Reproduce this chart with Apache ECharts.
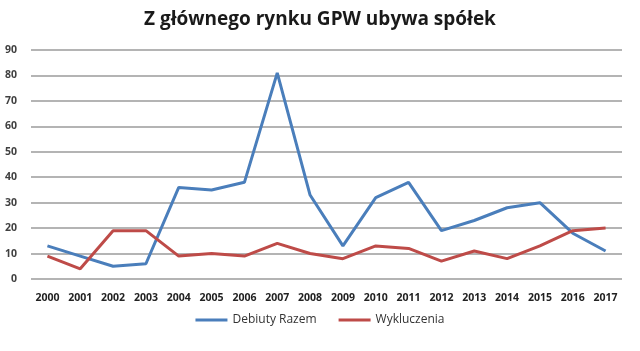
<!DOCTYPE html>
<html>
<head>
<meta charset="utf-8">
<script src="https://cdn.jsdelivr.net/npm/echarts@6/dist/echarts.min.js"></script>
<style>
  html, body { margin: 0; padding: 0; background: #fff; }
  #chart { width: 640px; height: 351px; }
</style>
</head>
<body>
<div id="chart"></div>
<script>
const years = ['2000', '2001', '2002', '2003', '2004', '2005', '2006', '2007', '2008',
  '2009', '2010', '2011', '2012', '2013', '2014', '2015', '2016', '2017'];
const debiuty = [13, 9, 5, 6, 36, 35, 38, 81, 33, 13, 32, 38, 19, 23, 28, 30, 18, 11];
const wykluczenia = [9, 4, 19, 19, 9, 10, 9, 14, 10, 8, 13, 12, 7, 11, 8, 13, 19, 20];

const font = '"Open Sans", "DejaVu Sans", sans-serif';

let myChart = echarts.init(document.getElementById('chart'));
myChart.setOption({
  animation: false,
  title: {
    text: 'Z głównego rynku GPW ubywa spółek',
    left: 'center',
    top: 5,
    textStyle: { fontFamily: font, fontWeight: 'bold', fontSize: 19, color: '#1a1a1a' }
  },
  legend: {
    bottom: 20,
    left: 'center',
    itemWidth: 32,
    itemHeight: 3,
    itemGap: 22,
    icon: 'rect',
    textStyle: { fontFamily: font, fontSize: 12, color: '#333' },
    data: ['Debiuty Razem', 'Wykluczenia']
  },
  grid: { left: 31, right: 18, top: 50, bottom: 72 },
  xAxis: {
    type: 'category',
    data: years,
    boundaryGap: true,
    axisLine: { show: false },
    axisTick: { show: false },
    axisLabel: { fontFamily: font, fontSize: 10.5, color: '#222', fontWeight: 'bold', margin: 14, interval: 0 }
  },
  yAxis: {
    type: 'value',
    min: 0,
    max: 90,
    interval: 10,
    axisLine: { show: false },
    axisTick: { show: false },
    axisLabel: { fontFamily: font, fontSize: 10.5, color: '#404040', fontWeight: 'bold', margin: 14 },
    splitLine: { lineStyle: { color: '#b4b4b4', width: 2 } }
  },
  series: [
    {
      name: 'Debiuty Razem',
      type: 'line',
      data: debiuty,
      symbol: 'none',
      color: '#4a7ebb',
      lineStyle: { width: 3 }
    },
    {
      name: 'Wykluczenia',
      type: 'line',
      data: wykluczenia,
      symbol: 'none',
      color: '#be4b48',
      lineStyle: { width: 3 }
    }
  ]
});
</script>
</body>
</html>
